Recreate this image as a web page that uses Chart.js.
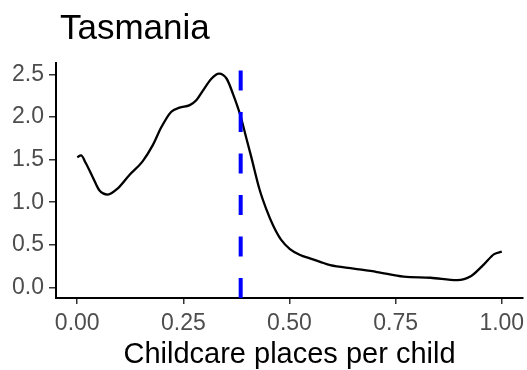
<!DOCTYPE html>
<html>
<head>
<meta charset="utf-8">
<script src="https://cdn.jsdelivr.net/npm/chart.js@4.4.1/dist/chart.umd.min.js"></script>
<style>
  html, body { margin: 0; padding: 0; background: #ffffff; }
  #wrap { width: 527px; height: 370px; }
</style>
</head>
<body>
<div id="wrap"><canvas id="c" width="527" height="370"></canvas></div>
<script>
// Kernel density of childcare places per child, Tasmania
const densityX = [0.000, 0.009, 0.020, 0.036, 0.052, 0.072, 0.095, 0.123, 0.154, 0.178,
                  0.198, 0.221, 0.241, 0.265, 0.281, 0.296, 0.316, 0.334, 0.352, 0.367,
                  0.383, 0.399, 0.409, 0.430, 0.446, 0.462, 0.480, 0.501, 0.525, 0.548,
                  0.572, 0.596, 0.651, 0.706, 0.769, 0.832, 0.895, 0.927, 0.958, 0.982,
                  1.000];
const densityY = [1.53, 1.55, 1.46, 1.30, 1.14, 1.09, 1.16, 1.32, 1.48, 1.67,
                  1.88, 2.06, 2.11, 2.14, 2.20, 2.31, 2.45, 2.51, 2.45, 2.27,
                  2.04, 1.74, 1.55, 1.14, 0.91, 0.72, 0.56, 0.45, 0.38, 0.34,
                  0.30, 0.26, 0.22, 0.18, 0.125, 0.113, 0.085, 0.13, 0.27, 0.39,
                  0.42];
// Mean places per child (dashed reference line)
const meanPlaces = 0.385;

const xTicks = [0, 0.25, 0.5, 0.75, 1.0];
const yTicks = [0, 0.5, 1.0, 1.5, 2.0, 2.5];
const titleText = "Tasmania";
const xTitle = "Childcare places per child";

const FONT = "'Liberation Sans', Arial, sans-serif";

const densityPoints = densityX.map((x, i) => ({ x: x, y: densityY[i] }));
const yMin = -0.125, yMax = 2.635;

const titlePlugin = {
  id: 'plotTitle',
  afterDraw(chart) {
    const ctx = chart.ctx;
    ctx.save();
    ctx.fillStyle = '#000000';
    ctx.font = "35px " + FONT;
    ctx.textAlign = 'left';
    ctx.textBaseline = 'alphabetic';
    ctx.fillText(titleText, 60, 39);
    ctx.restore();
  }
};

new Chart(document.getElementById('c'), {
  type: 'scatter',
  data: {
    datasets: [
      {
        label: 'mean',
        data: [{ x: meanPlaces, y: yMin }, { x: meanPlaces, y: yMax }],
        showLine: true,
        borderColor: '#0000FF',
        borderWidth: 4,
        borderDash: [20, 21.5],
        borderCapStyle: 'butt',
        pointRadius: 0,
        fill: false
      },
      {
        label: 'density',
        data: densityPoints,
        showLine: true,
        borderColor: '#000000',
        borderWidth: 2.3,
        cubicInterpolationMode: 'monotone',
        pointRadius: 0,
        fill: false
      }
    ]
  },
  options: {
    responsive: false,
    animation: false,
    layout: { padding: { left: 0, right: 4, top: 63, bottom: 0 } },
    plugins: {
      legend: { display: false },
      tooltip: { enabled: false },
      title: { display: false }
    },
    scales: {
      x: {
        type: 'linear',
        min: -0.05,
        max: 1.05,
        afterBuildTicks(scale) { scale.ticks = xTicks.map(v => ({ value: v })); },
        afterFit(scale) {
          scale.height = 72;
          scale.paddingLeft = 0;
          scale.paddingRight = 0;
        },
        border: { display: true, color: '#000000', width: 2 },
        grid: { drawOnChartArea: false, drawTicks: true, tickLength: 6, tickColor: '#333333', lineWidth: 1.5 },
        ticks: {
          color: '#4D4D4D',
          font: { family: FONT, size: 23 },
          padding: 6,
          maxRotation: 0,
          callback: v => Number(v).toFixed(2)
        },
        title: {
          display: true,
          text: xTitle,
          color: '#000000',
          font: { family: FONT, size: 29, lineHeight: 1.05 },
          padding: { top: 0, bottom: 0 }
        }
      },
      y: {
        type: 'linear',
        min: yMin,
        max: yMax,
        afterBuildTicks(scale) { scale.ticks = yTicks.map(v => ({ value: v })); },
        afterFit(scale) {
          scale.width = 56;
          scale.paddingTop = 0;
          scale.paddingBottom = 0;
        },
        border: { display: true, color: '#000000', width: 2 },
        grid: { drawOnChartArea: false, drawTicks: true, tickLength: 7, tickColor: '#333333', lineWidth: 1.5 },
        ticks: {
          color: '#4D4D4D',
          font: { family: FONT, size: 23 },
          padding: 5,
          callback: v => Number(v).toFixed(1)
        }
      }
    }
  },
  plugins: [titlePlugin]
});
</script>
</body>
</html>
